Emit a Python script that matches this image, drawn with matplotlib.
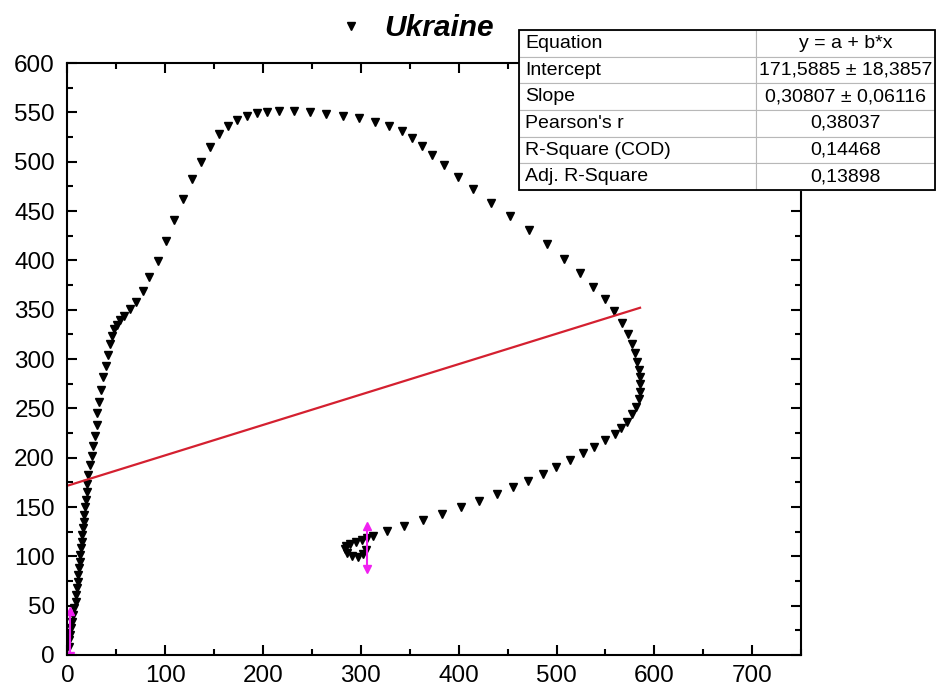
import matplotlib
matplotlib.use('Agg')
import matplotlib.pyplot as plt
from matplotlib.ticker import MultipleLocator
from matplotlib.patches import Rectangle
import numpy as np

plt.rcParams['font.family'] = ['Liberation Sans', 'DejaVu Sans']

# trajectory (start at origin, loop round, end in the curl)
x = [1.5, 1.8, 2.6, 3.6, 4.9, 5.9, 7.0, 8.4, 9.0, 9.7, 10.4, 11.0, 11.8, 12.5,
     13.1, 13.8, 14.5, 15.1, 15.8, 16.6, 17.2, 17.9, 18.9, 19.6, 20.2, 21.3,
     23.0, 24.7, 26.4, 28.1, 29.9, 30.5, 32.5, 34.6, 36.6, 39.1, 41.1, 43.5,
     45.8, 47.9, 50.3, 53.7, 58.1, 63.9, 70.0, 76.9, 83.6, 92.2, 100.7, 108.9,
     118.1, 127.3, 136.5, 145.7, 154.9, 164.1, 173.3, 183.5, 193.8, 204.0,
     216.3, 231.6, 248.0, 264.3, 281.7, 298.1, 314.4, 328.8, 342.1, 352.3,
     362.5, 372.7, 385.0, 399.3, 414.6, 433.0, 452.5, 471.9, 490.3, 507.7,
     524.0, 537.3, 549.6, 558.8, 567.0, 573.1, 577.2, 580.3, 582.3, 584.4,
     585.4, 585.4, 585.4, 584.4, 581.3, 577.2, 572.1, 566.0, 559.8, 549.6,
     538.7, 527.4, 513.8, 499.5, 486.5, 471.2, 455.2, 438.9, 420.8, 402.0,
     382.6, 363.2, 344.1, 326.4, 312.7, 306.2, 300.8, 295.0, 288.9, 284.8,
     283.7, 285.8, 290.9, 297.0, 302.1, 305.2]
y = [8.1, 15.2, 20.3, 27.4, 33.4, 40.5, 47.6, 53.7, 60.8, 67.9, 74.0, 81.1,
     88.1, 94.2, 101.3, 108.4, 114.5, 121.6, 128.7, 134.8, 141.8, 149.9, 157.0,
     165.1, 173.3, 182.4, 192.5, 201.6, 211.8, 221.9, 233.0, 244.9, 256.0,
     268.5, 281.4, 292.8, 303.9, 314.8, 323.2, 330.0, 334.3, 339.4, 343.5,
     350.3, 357.9, 369.1, 383.3, 399.5, 419.5, 440.7, 462.0, 482.3, 499.5,
     514.7, 527.9, 536.0, 542.1, 546.1, 549.2, 550.2, 551.2, 551.2, 550.2,
     548.1, 546.6, 544.1, 540.5, 536.5, 530.9, 523.8, 516.2, 507.1, 496.5,
     484.3, 472.2, 458.0, 444.8, 430.6, 416.4, 401.7, 387.0, 372.9, 361.2,
     348.5, 336.4, 325.2, 315.6, 306.0, 296.9, 289.3, 281.7, 274.6, 266.5,
     259.4, 251.3, 244.2, 236.1, 230.0, 224.4, 217.8, 210.4, 204.4, 197.6,
     190.2, 183.1, 176.6, 169.9, 163.1, 156.0, 149.6, 142.9, 136.8, 131.0,
     125.9, 120.6, 119.0, 116.5, 115.0, 113.0, 110.4, 107.4, 103.3, 100.3,
     99.3, 102.3, 106.4]

# linear fit results
intercept = 171.5885
slope = 0.30807

# magenta error bars at start and end
err_x = [3, 306]
err_y = [22, 109]
err_size = [23, 22]

table_rows = [
    ['Equation', 'y = a + b*x'],
    ['Intercept', '171,5885 \u00b1 18,3857'],
    ['Slope', '0,30807 \u00b1 0,06116'],
    ["Pearson's r", '0,38037'],
    ['R-Square (COD)', '0,14468'],
    ['Adj. R-Square', '0,13898'],
]

fig = plt.figure(figsize=(9.36, 6.91), dpi=100)
ax = fig.add_axes([0.0721, 0.0521, 0.7837, 0.8567])

pts, = ax.plot(x, y, linestyle='none', marker='v', color='black',
               markersize=6.3, label='Ukraine')

fit_x = np.array([min(x), max(x)])
ax.plot(fit_x, intercept + slope * fit_x, color='#d42030', linewidth=1.6)

ax.errorbar(err_x, err_y, yerr=err_size, fmt='none', ecolor='#f020f0',
            elinewidth=1.5, capsize=0)
ax.plot(err_x, np.add(err_y, err_size), linestyle='none', marker='^',
        color='#f020f0', markersize=6)
ax.plot(err_x, np.subtract(err_y, err_size), linestyle='none', marker='v',
        color='#f020f0', markersize=6)

ax.set_xlim(0, 750)
ax.set_ylim(0, 600)
ax.xaxis.set_major_locator(MultipleLocator(100))
ax.xaxis.set_minor_locator(MultipleLocator(50))
ax.yaxis.set_major_locator(MultipleLocator(50))
ax.yaxis.set_minor_locator(MultipleLocator(25))
ax.tick_params(which='both', direction='in', top=True, right=True, width=1.5,
               labelsize=17.5)
ax.tick_params(which='major', length=7)
ax.tick_params(which='minor', length=4)
ax.tick_params(axis='y', pad=9)
ax.tick_params(axis='x', pad=7)
for sp in ax.spines.values():
    sp.set_linewidth(1.5)

leg = ax.legend(handles=[pts], loc='center', bbox_to_anchor=(0.474, 1.059),
                frameon=False, handlelength=1.0, handletextpad=0.6,
                markerscale=0.9,
                prop={'weight': 'bold', 'style': 'italic', 'size': 21.5})

tb_box = [0.6155, 0.7855, 0.5672, 0.270]
tb = ax.table(cellText=table_rows, colWidths=[0.57, 0.43], bbox=tb_box,
              zorder=5)
tb.auto_set_font_size(False)
tb.set_fontsize(14)
for (r, c), cell in tb.get_celld().items():
    cell.set_edgecolor('#b8b8b8')
    cell.set_linewidth(0.8)
    cell.set_facecolor('white')
    cell.set_clip_on(False)
    cell.get_text().set_ha('left' if c == 0 else 'center')
    cell.PAD = 0.025
ax.add_patch(Rectangle((tb_box[0], tb_box[1]), tb_box[2], tb_box[3],
                       transform=ax.transAxes, fill=False, edgecolor='black',
                       linewidth=1.3, clip_on=False, zorder=6))

fig.savefig('out.png', dpi=100)
